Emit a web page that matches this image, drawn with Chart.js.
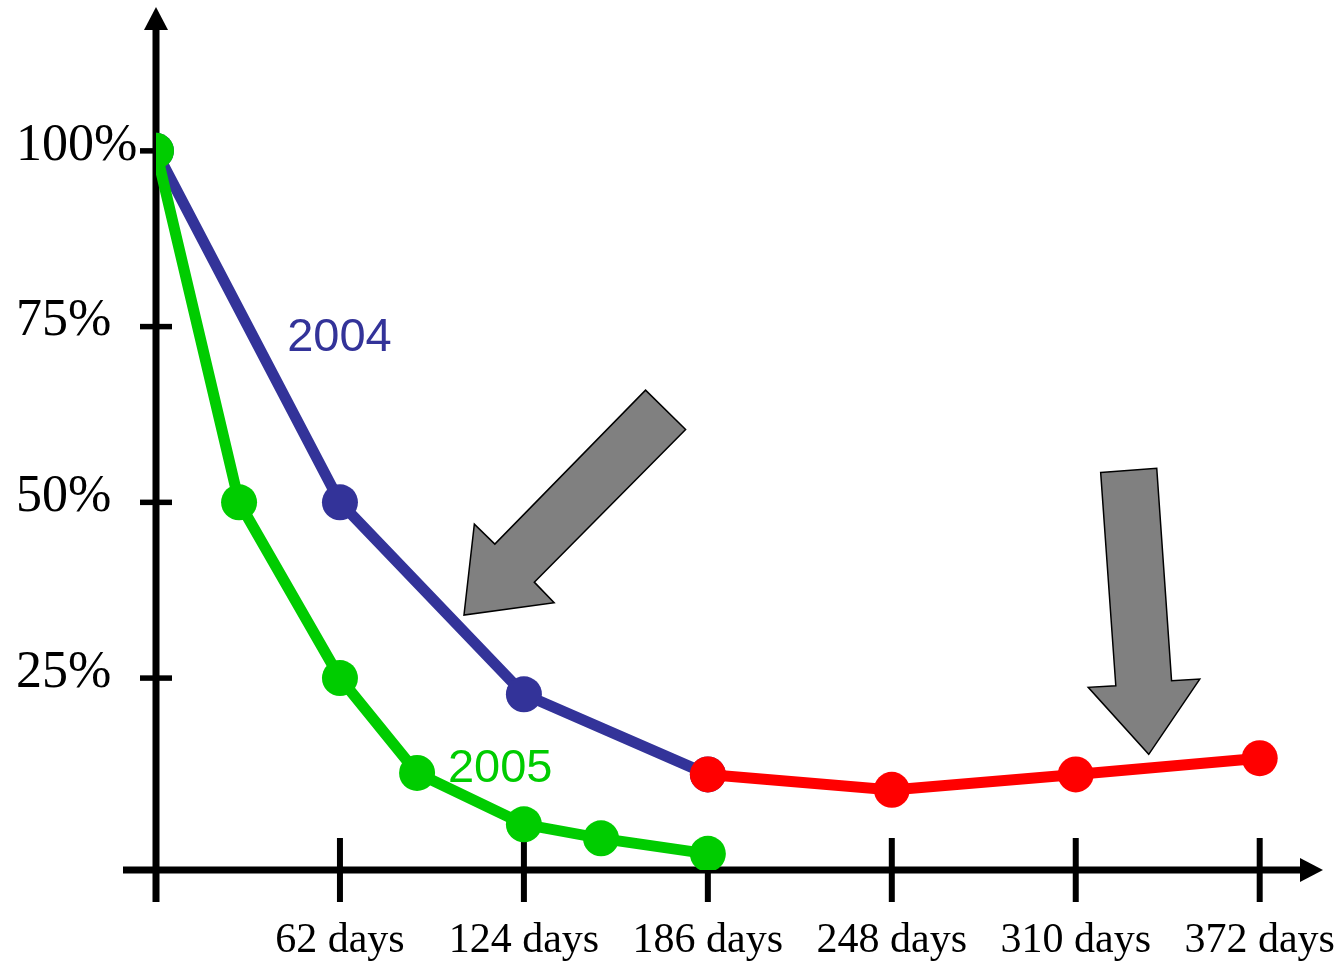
<!DOCTYPE html>
<html>
<head>
<meta charset="utf-8">
<title>Share remaining over time</title>
<script src="https://cdn.jsdelivr.net/npm/chart.js@4.4.1/dist/chart.umd.min.js"></script>
<style>
  html, body { margin: 0; padding: 0; background: #ffffff; }
  #wrap { position: relative; width: 1343px; height: 962px; }
</style>
</head>
<body>
<div id="wrap"><canvas id="chart"></canvas></div>
<script>
// Days elapsed and share remaining (%) for each curve
const days2005 = [0, 28, 62, 88, 124, 150, 186];
const share2005 = [100, 50, 25, 11.5, 4.2, 2.2, 0];

const days2004 = [0, 62, 124, 186];
const share2004 = [100, 50, 22.7, 11.3];

const daysLate = [186, 248, 310, 372];
const shareLate = [11.3, 9.1, 11.3, 13.6];

// Axis ticks
const dayTicks = [62, 124, 186, 248, 310, 372];
const pctTicks = [25, 50, 75, 100];

// Axis extents (data units)
const dayMax = 393;
const pctMin = -2.3;
const pctMax = 118.9;

// Callout texts: [text, day, share at baseline, colour]
const callouts = [
  ['2004', 44.2, 71.5, '#333399'],
  ['2005', 98.4, 10.2, '#00CC00']
];

// Block arrows outlined in data units (day, share)
const blockArrows = [
  [[165.0, 65.96], [178.5, 60.37], [127.5, 38.65], [134.2, 35.71], [103.8, 33.96], [107.3, 46.90], [114.2, 44.06]],
  [[318.4, 54.25], [337.3, 54.86], [342.3, 24.62], [351.8, 24.86], [334.6, 14.15], [314.2, 23.68], [323.5, 23.90]]
];

const toPoints = (xs, ys) => xs.map((d, i) => ({ x: d, y: ys[i] }));

const BLUE = '#333399', GREEN = '#00CC00', RED = '#FF0000';

function lineDataset(label, data, color) {
  return {
    label,
    data,
    borderColor: color,
    backgroundColor: color,
    borderWidth: 11,
    pointRadius: 18,
    pointHoverRadius: 18,
    pointBorderWidth: 0,
    pointBackgroundColor: color,
    tension: 0,
    fill: false
  };
}

// Arrowed axes with crossing tick marks
const axesPlugin = {
  id: 'arrowAxes',
  beforeDatasetsDraw(chart) {
    const { ctx, chartArea, scales } = chart;
    const xs = scales.x, ys = scales.y;
    const x0 = xs.getPixelForValue(0);
    const yb = chartArea.bottom;
    const tipY = chartArea.top - 11;
    const seg = (a, b, c, d) => { ctx.beginPath(); ctx.moveTo(a, b); ctx.lineTo(c, d); ctx.stroke(); };
    ctx.save();
    ctx.strokeStyle = '#000';
    ctx.fillStyle = '#000';
    ctx.lineCap = 'butt';

    ctx.lineWidth = 7;
    seg(x0, yb + 32, x0, tipY + 21);
    ctx.beginPath();
    ctx.moveTo(x0, tipY);
    ctx.lineTo(x0 - 12, tipY + 23);
    ctx.lineTo(x0 + 12, tipY + 23);
    ctx.closePath();
    ctx.fill();

    seg(x0 - 33, yb, chartArea.right - 21, yb);
    ctx.beginPath();
    ctx.moveTo(chartArea.right + 1, yb);
    ctx.lineTo(chartArea.right - 22, yb - 12);
    ctx.lineTo(chartArea.right - 22, yb + 12);
    ctx.closePath();
    ctx.fill();

    ctx.lineWidth = 6;
    dayTicks.forEach(d => {
      const px = xs.getPixelForValue(d);
      seg(px, yb - 32, px, yb + 32);
    });
    ctx.lineWidth = 5.5;
    pctTicks.forEach(p => {
      const py = ys.getPixelForValue(p);
      seg(x0 - 16, py, x0 + 16, py);
    });
    ctx.restore();
  },
  afterDatasetsDraw(chart) {
    const { ctx, scales } = chart;
    const xs = scales.x, ys = scales.y;
    ctx.save();
    ctx.fillStyle = '#808080';
    ctx.strokeStyle = '#000';
    ctx.lineWidth = 1.5;
    ctx.lineJoin = 'miter';
    blockArrows.forEach(poly => {
      ctx.beginPath();
      poly.forEach(([d, s], i) => {
        const px = xs.getPixelForValue(d), py = ys.getPixelForValue(s);
        if (i === 0) ctx.moveTo(px, py); else ctx.lineTo(px, py);
      });
      ctx.closePath();
      ctx.fill();
      ctx.stroke();
    });

    ctx.font = '47px "Liberation Sans", Arial, sans-serif';
    ctx.textAlign = 'left';
    ctx.textBaseline = 'alphabetic';
    callouts.forEach(([text, d, s, color]) => {
      ctx.fillStyle = color;
      ctx.fillText(text, xs.getPixelForValue(d), ys.getPixelForValue(s));
    });
    ctx.restore();
  }
};

new Chart(document.getElementById('chart'), {
  type: 'line',
  data: {
    datasets: [
      lineDataset('2005', toPoints(days2005, share2005), GREEN),
      lineDataset('2004 later', toPoints(daysLate, shareLate), RED),
      lineDataset('2004', toPoints(days2004, share2004), BLUE)
    ]
  },
  options: {
    responsive: true,
    maintainAspectRatio: false,
    animation: false,
    events: [],
    layout: { padding: { left: 16, right: 21, top: 2, bottom: 0 } },
    plugins: {
      legend: { display: false },
      tooltip: { enabled: false }
    },
    scales: {
      x: {
        type: 'linear',
        position: 'bottom',
        min: 0,
        max: dayMax,
        grid: { display: false },
        border: { display: false },
        afterBuildTicks: s => { s.ticks = dayTicks.map(v => ({ value: v })); },
        afterFit: s => { s.height = 92; s.paddingLeft = 0; s.paddingRight = 0; },
        ticks: {
          autoSkip: false,
          maxRotation: 0,
          minRotation: 0,
          padding: 38,
          color: '#000',
          font: { family: '"Liberation Serif", "Times New Roman", serif', size: 42 },
          callback: v => v + ' days'
        }
      },
      y: {
        type: 'linear',
        position: 'left',
        min: pctMin,
        max: pctMax,
        grid: { display: false },
        border: { display: false },
        afterBuildTicks: s => { s.ticks = pctTicks.map(v => ({ value: v })); },
        afterFit: s => { s.width = 140; s.paddingTop = 0; s.paddingBottom = 0; },
        ticks: {
          crossAlign: 'far',
          labelOffset: -5,
          padding: 0,
          color: '#000',
          font: { family: '"Liberation Serif", "Times New Roman", serif', size: 52 },
          callback: v => v + '%'
        }
      }
    }
  },
  plugins: [axesPlugin]
});
</script>
</body>
</html>
